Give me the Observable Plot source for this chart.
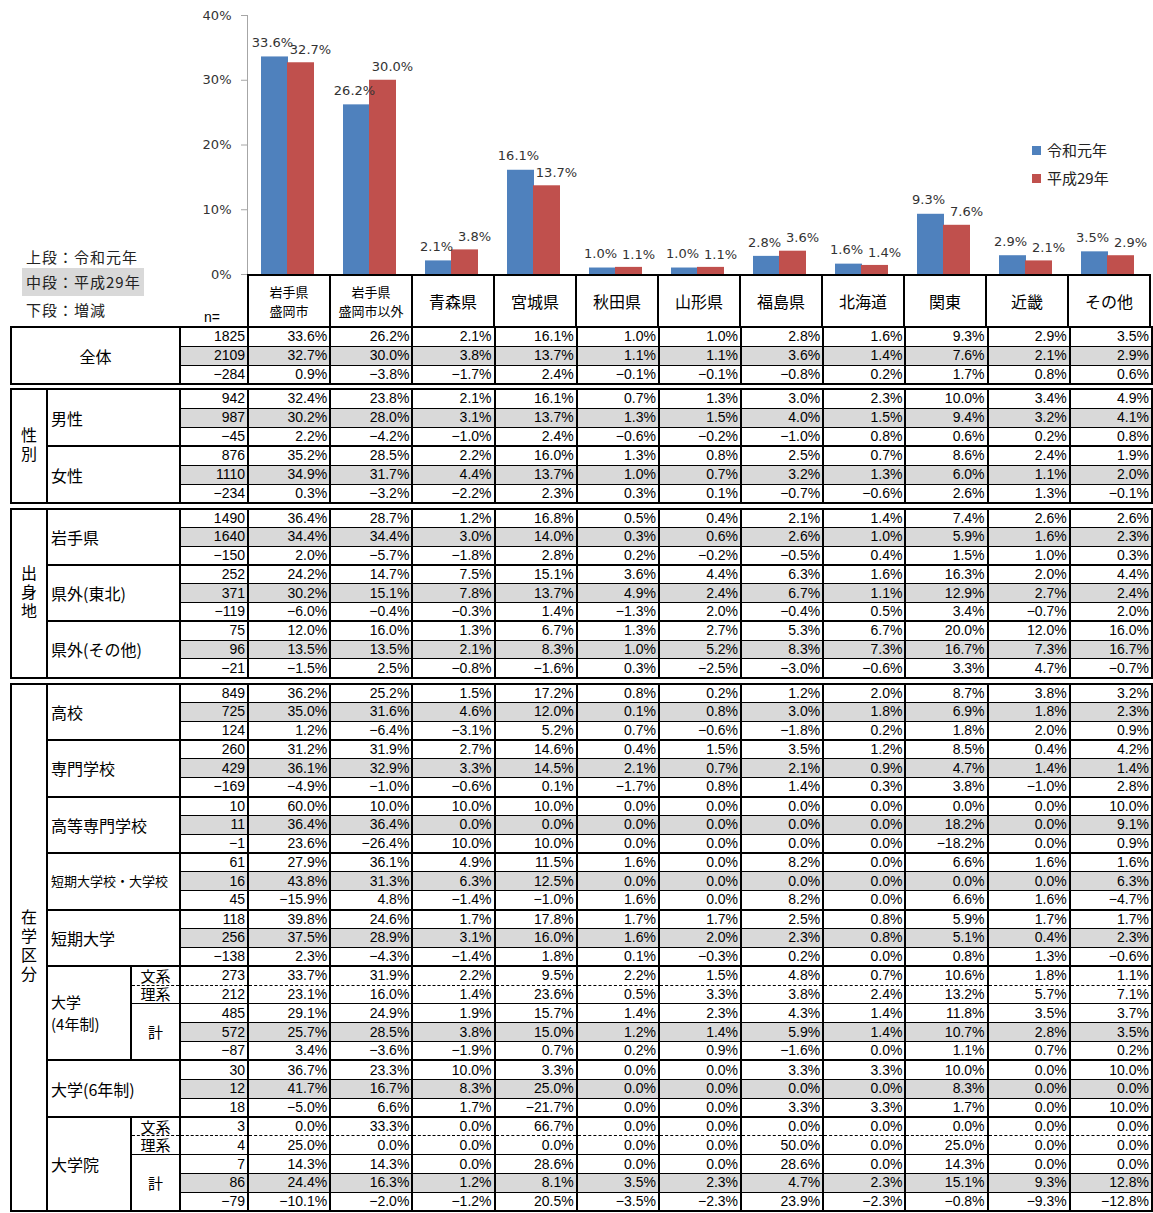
<!DOCTYPE html>
<html lang="ja">
<head>
<meta charset="utf-8">
<script src="https://cdn.jsdelivr.net/npm/d3@7"></script>
<script src="https://cdn.jsdelivr.net/npm/@observablehq/plot@0.6"></script>
<style>
html,body{margin:0;padding:0;background:#fff;}
#root{position:relative;width:1153px;height:1213px;overflow:hidden;font-family:"Noto Sans CJK JP",sans-serif;color:#000;}
#chart{position:absolute;left:0;top:0;}
.note{position:absolute;font-size:15px;line-height:28px;letter-spacing:1px;color:#222;white-space:nowrap;}
.note.gray{background:#d9d9d9;padding-left:4px;}
.leg{position:absolute;left:1032px;font-size:15px;line-height:20px;color:#222;white-space:nowrap;}
.leg i{display:inline-block;width:9px;height:9px;margin-right:6px;vertical-align:1px;}
.nlab{position:absolute;left:204px;top:308px;font-family:"Liberation Sans",Arial,sans-serif;font-size:14px;line-height:18px;}
table.hdr{position:absolute;left:247px;top:274px;width:904px;border-collapse:collapse;table-layout:fixed;border:2px solid #000;}
table.hdr td{border:2px solid #000;height:50px;padding:0;text-align:center;vertical-align:middle;font-size:16px;line-height:18px;}
table.hdr td.two{font-size:13px;line-height:19px;}
table.t{position:absolute;left:10px;width:1141px;border-collapse:collapse;table-layout:fixed;border:2px solid #000;}
table.t td{border-left:2px solid #000;border-right:2px solid #000;border-top:none;border-bottom:1px solid #000;padding:0;overflow:hidden;white-space:nowrap;vertical-align:middle;}
table.t td.bt{border-bottom:2px solid #000;}
table.t td.bd{border-bottom:1px dashed #000;}
table.t td.num{text-align:right;padding-right:2px;font-family:"Liberation Sans",Arial,sans-serif;font-size:14px;line-height:15px;}
table.t td.g{background:#d9d9d9;}
table.t td.lab{font-size:16px;line-height:16px;text-align:left;padding-left:3px;}
table.t td.c1{text-align:center;padding-left:0;}
table.t td.c1 div{writing-mode:vertical-rl;text-orientation:upright;letter-spacing:3px;margin:0 auto;line-height:20px;}
table.t td.c3{text-align:center;padding-left:0;font-size:15px;line-height:14px;overflow:visible;}
table.t td.small{font-size:13px;}
table.t td.two{font-size:15px;line-height:22px;}
table.t td.all{text-align:center;padding-left:0;}
</style>
</head>
<body>
<div id="root">
  <div id="chart"></div>
</div>
<script>
// ---- Chart data ----
const categories = ["岩手県\n盛岡市", "岩手県\n盛岡市以外", "青森県", "宮城県", "秋田県", "山形県", "福島県", "北海道", "関東", "近畿", "その他"];
const seriesNames = ["令和元年", "平成29年"];
const reiwa  = [33.6, 26.2, 2.1, 16.1, 1.0, 1.0, 2.8, 1.6, 9.3, 2.9, 3.5];
const heisei = [32.7, 30.0, 3.8, 13.7, 1.1, 1.1, 3.6, 1.4, 7.6, 2.1, 2.9];
const yTicks = [0, 10, 20, 30, 40];
const rowNotes = ["上段：令和元年", "中段：平成29年", "下段：増減"];

// ---- Table data: [n, 11 category shares] ----
const rowsZentai = [
  [1825, 33.6, 26.2, 2.1, 16.1, 1.0, 1.0, 2.8, 1.6, 9.3, 2.9, 3.5],
  [2109, 32.7, 30.0, 3.8, 13.7, 1.1, 1.1, 3.6, 1.4, 7.6, 2.1, 2.9],
  [-284, 0.9, -3.8, -1.7, 2.4, -0.1, -0.1, -0.8, 0.2, 1.7, 0.8, 0.6]];
const rowsMale = [
  [942, 32.4, 23.8, 2.1, 16.1, 0.7, 1.3, 3.0, 2.3, 10.0, 3.4, 4.9],
  [987, 30.2, 28.0, 3.1, 13.7, 1.3, 1.5, 4.0, 1.5, 9.4, 3.2, 4.1],
  [-45, 2.2, -4.2, -1.0, 2.4, -0.6, -0.2, -1.0, 0.8, 0.6, 0.2, 0.8]];
const rowsFemale = [
  [876, 35.2, 28.5, 2.2, 16.0, 1.3, 0.8, 2.5, 0.7, 8.6, 2.4, 1.9],
  [1110, 34.9, 31.7, 4.4, 13.7, 1.0, 0.7, 3.2, 1.3, 6.0, 1.1, 2.0],
  [-234, 0.3, -3.2, -2.2, 2.3, 0.3, 0.1, -0.7, -0.6, 2.6, 1.3, -0.1]];
const rowsIwate = [
  [1490, 36.4, 28.7, 1.2, 16.8, 0.5, 0.4, 2.1, 1.4, 7.4, 2.6, 2.6],
  [1640, 34.4, 34.4, 3.0, 14.0, 0.3, 0.6, 2.6, 1.0, 5.9, 1.6, 2.3],
  [-150, 2.0, -5.7, -1.8, 2.8, 0.2, -0.2, -0.5, 0.4, 1.5, 1.0, 0.3]];
const rowsTohoku = [
  [252, 24.2, 14.7, 7.5, 15.1, 3.6, 4.4, 6.3, 1.6, 16.3, 2.0, 4.4],
  [371, 30.2, 15.1, 7.8, 13.7, 4.9, 2.4, 6.7, 1.1, 12.9, 2.7, 2.4],
  [-119, -6.0, -0.4, -0.3, 1.4, -1.3, 2.0, -0.4, 0.5, 3.4, -0.7, 2.0]];
const rowsOtherPref = [
  [75, 12.0, 16.0, 1.3, 6.7, 1.3, 2.7, 5.3, 6.7, 20.0, 12.0, 16.0],
  [96, 13.5, 13.5, 2.1, 8.3, 1.0, 5.2, 8.3, 7.3, 16.7, 7.3, 16.7],
  [-21, -1.5, 2.5, -0.8, -1.6, 0.3, -2.5, -3.0, -0.6, 3.3, 4.7, -0.7]];
const rowsKoukou = [
  [849, 36.2, 25.2, 1.5, 17.2, 0.8, 0.2, 1.2, 2.0, 8.7, 3.8, 3.2],
  [725, 35.0, 31.6, 4.6, 12.0, 0.1, 0.8, 3.0, 1.8, 6.9, 1.8, 2.3],
  [124, 1.2, -6.4, -3.1, 5.2, 0.7, -0.6, -1.8, 0.2, 1.8, 2.0, 0.9]];
const rowsSenmon = [
  [260, 31.2, 31.9, 2.7, 14.6, 0.4, 1.5, 3.5, 1.2, 8.5, 0.4, 4.2],
  [429, 36.1, 32.9, 3.3, 14.5, 2.1, 0.7, 2.1, 0.9, 4.7, 1.4, 1.4],
  [-169, -4.9, -1.0, -0.6, 0.1, -1.7, 0.8, 1.4, 0.3, 3.8, -1.0, 2.8]];
const rowsKosen = [
  [10, 60.0, 10.0, 10.0, 10.0, 0.0, 0.0, 0.0, 0.0, 0.0, 0.0, 10.0],
  [11, 36.4, 36.4, 0.0, 0.0, 0.0, 0.0, 0.0, 0.0, 18.2, 0.0, 9.1],
  [-1, 23.6, -26.4, 10.0, 10.0, 0.0, 0.0, 0.0, 0.0, -18.2, 0.0, 0.9]];
const rowsDaigakko = [
  [61, 27.9, 36.1, 4.9, 11.5, 1.6, 0.0, 8.2, 0.0, 6.6, 1.6, 1.6],
  [16, 43.8, 31.3, 6.3, 12.5, 0.0, 0.0, 0.0, 0.0, 0.0, 0.0, 6.3],
  [45, -15.9, 4.8, -1.4, -1.0, 1.6, 0.0, 8.2, 0.0, 6.6, 1.6, -4.7]];
const rowsTandai = [
  [118, 39.8, 24.6, 1.7, 17.8, 1.7, 1.7, 2.5, 0.8, 5.9, 1.7, 1.7],
  [256, 37.5, 28.9, 3.1, 16.0, 1.6, 2.0, 2.3, 0.8, 5.1, 0.4, 2.3],
  [-138, 2.3, -4.3, -1.4, 1.8, 0.1, -0.3, 0.2, 0.0, 0.8, 1.3, -0.6]];
const rowsUniv4Bun = [[273, 33.7, 31.9, 2.2, 9.5, 2.2, 1.5, 4.8, 0.7, 10.6, 1.8, 1.1]];
const rowsUniv4Ri  = [[212, 23.1, 16.0, 1.4, 23.6, 0.5, 3.3, 3.8, 2.4, 13.2, 5.7, 7.1]];
const rowsUniv4Kei = [
  [485, 29.1, 24.9, 1.9, 15.7, 1.4, 2.3, 4.3, 1.4, 11.8, 3.5, 3.7],
  [572, 25.7, 28.5, 3.8, 15.0, 1.2, 1.4, 5.9, 1.4, 10.7, 2.8, 3.5],
  [-87, 3.4, -3.6, -1.9, 0.7, 0.2, 0.9, -1.6, 0.0, 1.1, 0.7, 0.2]];
const rowsUniv6 = [
  [30, 36.7, 23.3, 10.0, 3.3, 0.0, 0.0, 3.3, 3.3, 10.0, 0.0, 10.0],
  [12, 41.7, 16.7, 8.3, 25.0, 0.0, 0.0, 0.0, 0.0, 8.3, 0.0, 0.0],
  [18, -5.0, 6.6, 1.7, -21.7, 0.0, 0.0, 3.3, 3.3, 1.7, 0.0, 10.0]];
const rowsGradBun = [[3, 0.0, 33.3, 0.0, 66.7, 0.0, 0.0, 0.0, 0.0, 0.0, 0.0, 0.0]];
const rowsGradRi  = [[4, 25.0, 0.0, 0.0, 0.0, 0.0, 0.0, 50.0, 0.0, 25.0, 0.0, 0.0]];
const rowsGradKei = [
  [7, 14.3, 14.3, 0.0, 28.6, 0.0, 0.0, 28.6, 0.0, 14.3, 0.0, 0.0],
  [86, 24.4, 16.3, 1.2, 8.1, 3.5, 2.3, 4.7, 2.3, 15.1, 9.3, 12.8],
  [-79, -10.1, -2.0, -1.2, 20.5, -3.5, -2.3, 23.9, -2.3, -0.8, -9.3, -12.8]];

// ---- Chart ----
const bars = categories.flatMap((c, i) => [
  {cat: c, series: seriesNames[0], value: reiwa[i]},
  {cat: c, series: seriesNames[1], value: heisei[i]}
]);
const s0 = bars.filter(d => d.series === seriesNames[0]);
const s1 = bars.filter(d => d.series === seriesNames[1]);
const pct = d => d.value.toFixed(1) + "%";

const chart = Plot.plot({
  width: 1153, height: 275,
  marginLeft: 247, marginRight: 2, marginTop: 15, marginBottom: 1,
  x: {domain: categories, padding: 0, axis: null},
  y: {domain: [0, 40]},
  color: {domain: seriesNames, range: ["#4f81bd", "#c0504d"]},
  style: {fontFamily: "DejaVu Sans", fontSize: "13px", background: "transparent", overflow: "visible"},
  marks: [
    Plot.barY(s0, {x: "cat", y: "value", fill: "series", insetLeft: 13, insetRight: 42}),
    Plot.barY(s1, {x: "cat", y: "value", fill: "series", insetLeft: 39, insetRight: 16}),
    Plot.text(s0, {x: "cat", y: "value", text: pct, dx: -17, dy: -14, fill: "#333", fontSize: 13}),
    Plot.text(s1, {x: "cat", y: "value", text: pct, dx: 21, dy: -13, fill: "#333", fontSize: 13}),
    Plot.frame({anchor: "left", stroke: "#a6a6a6"}),
    Plot.axisY({ticks: yTicks, tickFormat: d => d + "%", tickSize: 6, tickPadding: 10,
      stroke: "#a6a6a6", fill: "#333", fontSize: 13, label: null})
  ]
});
document.getElementById("chart").appendChild(chart);

const root = document.getElementById("root");
function add(html) { root.insertAdjacentHTML("beforeend", html); }

// legend (top right)
const colors = ["#4f81bd", "#c0504d"];
seriesNames.forEach((s, i) => {
  add(`<div class="leg" style="top:${140 + i * 28}px"><i style="background:${colors[i]}"></i>${s}</div>`);
});
// row notes (left)
add(`<div class="note" style="left:22px;top:243px;padding-left:4px">${rowNotes[0]}</div>`);
add(`<div class="note gray" style="left:22px;top:268px;width:118px;height:28px">${rowNotes[1]}</div>`);
add(`<div class="note" style="left:22px;top:296px;padding-left:4px">${rowNotes[2]}</div>`);
add(`<div class="nlab">n=</div>`);

// header
add(`<table class="hdr"><tr>${categories.map(c =>
  `<td class="${c.includes("\n") ? "two" : ""}">${c.replace("\n", "<br>")}</td>`).join("")}</tr></table>`);

// ---- Table ----
const fmtN = v => (v < 0 ? "−" : "") + Math.abs(v);
const fmtP = v => (v < 0 ? "−" : "") + Math.abs(v).toFixed(1) + "%";
function dataCells(r, shaded, b) {
  return r.map((v, i) => `<td class="num${shaded ? " g" : ""} ${b}">${i === 0 ? fmtN(v) : fmtP(v)}</td>`).join("");
}
const colgroup = `<colgroup><col style="width:36px"><col style="width:84px"><col style="width:49px"><col style="width:68px">${
  categories.map(() => `<col style="width:82.18px">`).join("")}</colgroup>`;

function makeTable(top, rh, trs) {
  add(`<table class="t" style="top:${top}px">${colgroup}${trs.map(c => `<tr style="height:${rh}px">${c}</tr>`).join("")}</table>`);
}

// 全体
makeTable(326, 19, rowsZentai.map((r, i) =>
  (i === 0 ? `<td class="lab all" colspan="3" rowspan="3">全体</td>` : "") + dataCells(r, i === 1, "")));

function groupRows(groupLabel, subs) {
  const trs = [];
  const count = sg => sg.parts ? sg.parts.reduce((a, p) => a + p.rows.length, 0) : sg.rows.length;
  const total = subs.reduce((a, sg) => a + count(sg), 0);
  let first = true;
  const groupCell = () => `<td class="lab c1" rowspan="${total}"><div>${groupLabel}</div></td>`;
  subs.forEach(sg => {
    if (!sg.parts) {
      sg.rows.forEach((r, ri) => {
        let cells = "";
        if (first) { cells += groupCell(); first = false; }
        if (ri === 0) cells += `<td class="lab bt ${sg.cls || ""}" colspan="2" rowspan="${sg.rows.length}">${sg.label}</td>`;
        cells += dataCells(r, sg.rows.length === 3 && ri === 1, ri === sg.rows.length - 1 ? "bt" : "");
        trs.push(cells);
      });
    } else {
      let k = 0;
      const n = count(sg);
      sg.parts.forEach((p, pi) => {
        const lastPart = pi === sg.parts.length - 1;
        p.rows.forEach((r, ri) => {
          let cells = "";
          if (first) { cells += groupCell(); first = false; }
          if (k === 0) cells += `<td class="lab bt ${sg.cls || ""}" rowspan="${n}">${sg.label}</td>`;
          if (ri === 0) cells += `<td class="lab c3 ${p.dashed ? "bd" : (lastPart ? "bt" : "")}" rowspan="${p.rows.length}">${p.label}</td>`;
          const b = p.dashed ? "bd" : (lastPart && ri === p.rows.length - 1 ? "bt" : "");
          cells += dataCells(r, p.rows.length === 3 && ri === 1, b);
          trs.push(cells);
          k++;
        });
      });
    }
  });
  return trs;
}

makeTable(388, 19, groupRows("性別", [
  {label: "男性", rows: rowsMale},
  {label: "女性", rows: rowsFemale}
]));
makeTable(507.5, 18.8, groupRows("出身地", [
  {label: "岩手県", rows: rowsIwate},
  {label: "県外(東北)", rows: rowsTohoku},
  {label: "県外(その他)", rows: rowsOtherPref}
]));
makeTable(682.5, 18.85, groupRows("在学区分", [
  {label: "高校", rows: rowsKoukou},
  {label: "専門学校", rows: rowsSenmon},
  {label: "高等専門学校", rows: rowsKosen},
  {label: "短期大学校・大学校", rows: rowsDaigakko, cls: "small"},
  {label: "短期大学", rows: rowsTandai},
  {label: "大学<br>(4年制)", cls: "two", parts: [
    {label: "文系", rows: rowsUniv4Bun, dashed: true},
    {label: "理系", rows: rowsUniv4Ri},
    {label: "計", rows: rowsUniv4Kei}]},
  {label: "大学(6年制)", rows: rowsUniv6},
  {label: "大学院", parts: [
    {label: "文系", rows: rowsGradBun, dashed: true},
    {label: "理系", rows: rowsGradRi},
    {label: "計", rows: rowsGradKei}]}
]));
</script>
</body>
</html>
